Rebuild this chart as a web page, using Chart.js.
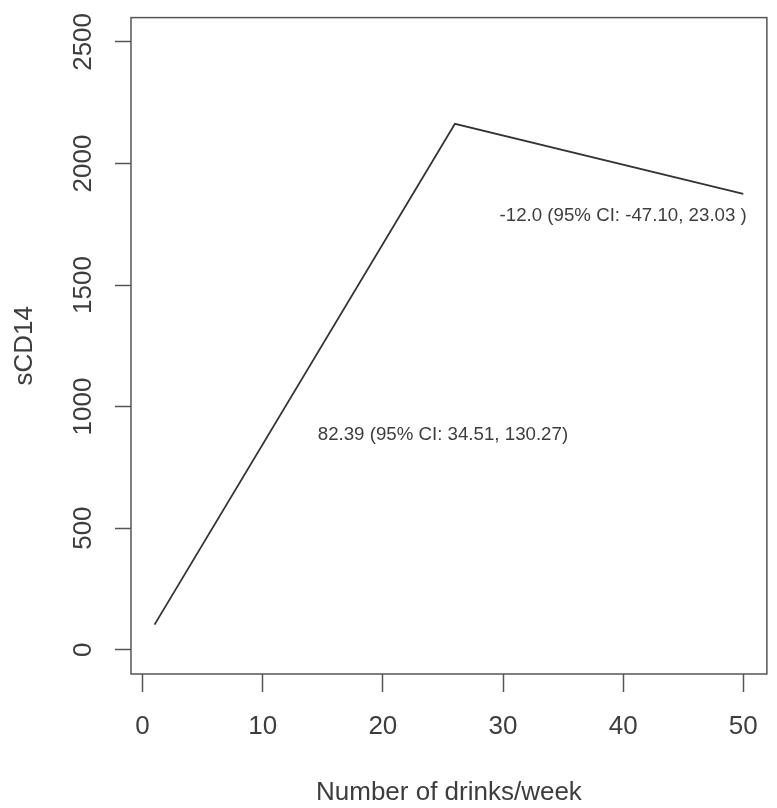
<!DOCTYPE html>
<html><head><meta charset="utf-8">
<script src="https://cdn.jsdelivr.net/npm/chart.js@4/dist/chart.umd.min.js"></script>
<style>html,body{margin:0;padding:0;background:#fff;} #c{display:block;}</style>
</head><body>
<canvas id="c" width="777" height="808"></canvas>
<script>
// Data
const drinksPerWeek = [1, 26, 50];
const sCD14 = [103, 2163, 1875];
const xTickValues = [0, 10, 20, 30, 40, 50];
const yTickValues = [0, 500, 1000, 1500, 2000, 2500];
const slopeLabels = ['82.39 (95% CI: 34.51, 130.27)', '-12.0 (95% CI: -47.10, 23.03 )'];
const slopeLabelX = [25, 40];
const slopeLabelY = [882, 1785];

const FONT = 'Liberation Sans, Arial, sans-serif';
const TEXT = '#3d3d3d';
const AXIS = '#555555';

const boxPlugin = {
  id: 'box',
  afterDraw(chart) {
    const {ctx, chartArea: a, scales} = chart;
    ctx.save();
    ctx.strokeStyle = AXIS;
    ctx.lineWidth = 1.5;
    ctx.strokeRect(a.left, a.top, a.right - a.left, a.bottom - a.top);
    ctx.fillStyle = TEXT;
    ctx.font = '18.7px ' + FONT;
    ctx.textAlign = 'center';
    ctx.textBaseline = 'middle';
    slopeLabels.forEach((t, i) => {
      ctx.fillText(t, scales.x.getPixelForValue(slopeLabelX[i]), scales.y.getPixelForValue(slopeLabelY[i]));
    });
    ctx.restore();
  }
};

new Chart(document.getElementById('c'), {
  type: 'line',
  data: {
    datasets: [{
      data: drinksPerWeek.map((x, i) => ({x, y: sCD14[i]})),
      borderColor: '#333333',
      borderWidth: 1.8,
      pointRadius: 0,
      tension: 0,
      fill: false
    }]
  },
  options: {
    responsive: false,
    animation: false,
    layout: {padding: {left: 0, right: 6, top: 10, bottom: 0}},
    plugins: {legend: {display: false}, tooltip: {enabled: false}},
    scales: {
      x: {
        type: 'linear',
        min: -0.96, max: 51.96,
        afterBuildTicks: s => { s.ticks = xTickValues.map(v => ({value: v})); },
        afterFit: s => { s.height = 134; },
        grid: {drawOnChartArea: false, drawTicks: true, tickLength: 18, color: AXIS, tickWidth: 1.5},
        border: {display: false},
        ticks: {font: {family: FONT, size: 26}, color: TEXT, padding: 19, maxRotation: 0, minRotation: 0, autoSkip: false, callback: v => String(v)},
        title: {display: true, text: 'Number of drinks/week', font: {family: FONT, size: 26}, color: TEXT, padding: {top: 0, bottom: 0}}
      },
      y: {
        type: 'linear',
        min: -100, max: 2600,
        afterBuildTicks: s => { s.ticks = yTickValues.map(v => ({value: v})); },
        afterFit: s => { s.width = 131; },
        grid: {drawOnChartArea: false, drawTicks: true, tickLength: 16, color: AXIS, tickWidth: 1.5},
        border: {display: false},
        ticks: {font: {family: FONT, size: 26}, color: TEXT, padding: 2, minRotation: 90, maxRotation: 90, crossAlign: 'center', autoSkip: false, callback: v => String(v)},
        title: {display: true, text: 'sCD14', font: {family: FONT, size: 26}, color: TEXT, padding: {top: 9, bottom: 0}}
      }
    }
  },
  plugins: [boxPlugin]
});
</script>
</body></html>
